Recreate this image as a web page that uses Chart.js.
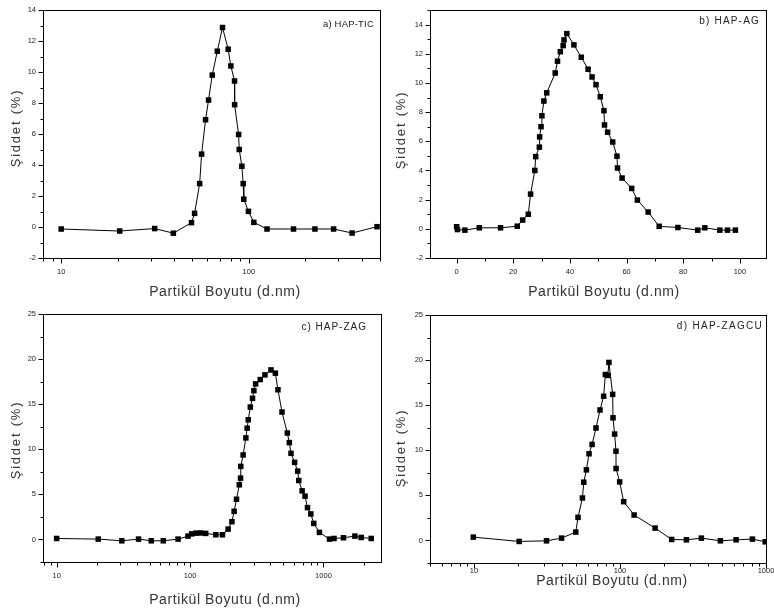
<!DOCTYPE html>
<html>
<head>
<meta charset="utf-8">
<script src="https://cdn.jsdelivr.net/npm/chart.js@4"></script>
<style>
  body { margin: 0; background: #fff; }
  #wrap { position: relative; width: 774px; height: 615px; }
  canvas { position: absolute; }
</style>
</head>
<body>
<div id="wrap">
  <canvas id="chartA" width="387" height="305" style="left:0;top:0"></canvas>
  <canvas id="chartB" width="387" height="305" style="left:387px;top:0"></canvas>
  <canvas id="chartC" width="387" height="310" style="left:0;top:305px"></canvas>
  <canvas id="chartD" width="387" height="310" style="left:387px;top:305px"></canvas>
</div>
<script>
// Particle size distributions (intensity %)

// a) HAP-TIC
const sizesA = [10, 20.5, 31.5, 39.6, 49.5, 51.4, 54.7, 56, 58.8, 61, 63.8, 67.9, 72.4, 77.6, 80.2, 83.9, 84,
    88.2, 88.9, 91.8, 93.3, 94, 99.5, 106.3, 125, 173, 225, 283, 355, 482];
const intensityA = [-0.13, -0.26, -0.1, -0.4, 0.28, 0.88, 2.8, 4.7, 6.92, 8.19, 9.8, 11.34, 12.87, 11.47, 10.39, 9.42, 7.89,
    5.97, 5.0, 3.92, 2.8, 1.79, 1.01, 0.3, -0.13, -0.13, -0.13, -0.13, -0.39, 0.02];

// b) HAP-AG
const sizesB = [0, 0.3, 2.9, 8.0, 15.5, 21.4, 23.3, 25.3, 26.1, 27.6, 27.9, 29.2, 29.3, 29.8, 30.1, 30.8, 31.8, 34.8,
    35.6, 36.6, 37.6, 37.9, 38.9, 41.4, 44.0, 46.4, 47.8, 49.2, 50.7, 52.0, 52.2, 53.3, 55.1, 56.6, 56.8, 58.4, 61.8,
    63.8, 67.6, 71.5, 78.1, 85.1, 87.6, 92.9, 95.6, 98.4];
const intensityB = [0.14, -0.05, -0.09, 0.07, 0.07, 0.18, 0.6, 1.0, 2.38, 4.0, 4.95, 5.6, 6.3, 7.0, 7.75, 8.76, 9.32, 10.68,
    11.49, 12.14, 12.56, 12.95, 13.38, 12.61, 11.76, 10.94, 10.41, 9.88, 9.05, 8.1, 7.12, 6.62, 5.95, 4.98, 4.17, 3.48, 2.77,
    1.97, 1.15, 0.17, 0.09, -0.09, 0.07, -0.09, -0.09, -0.09];

// c) HAP-ZAG
const sizesC = [10, 20.5, 30.8, 41.1, 51.2, 63, 81.3, 96.6, 103, 111, 120, 131, 156, 175, 193, 206, 214, 223, 234, 239,
    240, 250, 262, 268, 273, 283, 294, 301, 310, 336, 364, 404, 436, 456, 489, 536, 555, 571, 608, 641, 653, 692, 728,
    759, 804, 846, 933, 1109, 1201, 1413, 1720, 1919, 2281];
const intensityC = [0.11, 0.04, -0.15, 0.04, -0.15, -0.15, 0.04, 0.37, 0.62, 0.7, 0.72, 0.67, 0.52, 0.52, 1.15, 1.97, 3.12,
    4.46, 6.06, 6.8, 8.1, 9.37, 11.26, 12.34, 13.27, 14.68, 15.65, 16.5, 17.25, 17.73, 18.25, 18.8, 18.44, 16.6, 14.13,
    11.8, 10.74, 9.55, 8.55, 7.58, 6.54, 5.39, 4.8, 3.53, 2.83, 1.78, 0.78, 0.04, 0.11, 0.19, 0.37, 0.22, 0.11];

// d) HAP-ZAGCU
const sizesD = [9.9, 20.4, 31.4, 39.8, 49.8, 51.6, 55.3, 56.5, 58.9, 61.4, 64.4, 68.5, 73, 77.3, 79.4, 82.6, 84, 89.1,
    89.6, 91.9, 93.9, 94, 99.5, 106, 125, 174, 226, 285, 361, 487, 624, 807, 988];
const intensityD = [0.37, -0.11, -0.04, 0.26, 0.93, 2.56, 4.71, 6.46, 7.83, 9.61, 10.65, 12.47, 14.47, 15.99, 18.4, 18.3,
    19.74, 16.2, 13.6, 11.8, 9.9, 7.98, 6.49, 4.3, 2.82, 1.37, 0.11, 0.07, 0.26, -0.04, 0.07, 0.15, -0.15];

// Axis tick labels
const logTicksA = [10, 100];
const linTicksB = [0, 20, 40, 60, 80, 100];
const logTicksCD = [10, 100, 1000];
const yTicksAB = [-2, 0, 2, 4, 6, 8, 10, 12, 14];
const yTicksCD = [0, 5, 10, 15, 20, 25];

const xTitle = 'Partikül Boyutu (d.nm)';
const yTitle = 'Şiddet (%)';
const FONT = '"Liberation Sans", Arial, sans-serif';

// Major + minor tick values of a scale (Origin style)
function tickMarks(scale) {
    const out = [];
    const min = scale.min, max = scale.max;
    if (scale.type === 'logarithmic') {
        for (let n = Math.floor(Math.log10(min)); n <= Math.ceil(Math.log10(max)); n++) {
            for (let k = 1; k <= 9; k++) {
                const v = k * Math.pow(10, n);
                if (v >= min && v <= max) out.push([v, k === 1]);
            }
        }
    } else {
        const majors = scale.ticks.map(t => t.value);
        const half = (majors[1] - majors[0]) / 2;
        majors.forEach(v => out.push([v, true]));
        for (let v = majors[0] - half; v <= max + 1e-9; v += 2 * half) {
            if (v >= min - 1e-9) out.push([v, false]);
        }
    }
    return out;
}

// Draws the box, the tick marks, axis titles and the panel label
const framePlugin = {
    id: 'frame',
    beforeDatasetsDraw(chart) {
        const { ctx, chartArea: a, scales } = chart;
        ctx.save();
        ctx.strokeStyle = '#000';
        ctx.lineWidth = 1;
        ctx.strokeRect(Math.round(a.left) + 0.5, Math.round(a.top) + 0.5,
            Math.round(a.right - a.left), Math.round(a.bottom - a.top));

        ctx.beginPath();
        const bottom = Math.round(a.bottom) + 0.5;
        tickMarks(scales.x).forEach(([v, major]) => {
            const px = Math.round(scales.x.getPixelForValue(v)) + 0.5;
            ctx.moveTo(px, bottom);
            ctx.lineTo(px, bottom + (major ? 5 : 3));
        });
        const left = Math.round(a.left) + 0.5;
        tickMarks(scales.y).forEach(([v, major]) => {
            const py = Math.round(scales.y.getPixelForValue(v)) + 0.5;
            ctx.moveTo(left, py);
            ctx.lineTo(left - (major ? 5 : 3), py);
        });
        ctx.stroke();
        ctx.restore();
    },
    afterDraw(chart, args, opts) {
        const ctx = chart.ctx;
        ctx.save();
        ctx.fillStyle = '#333';
        ctx.textBaseline = 'middle';

        // x title
        ctx.font = '14px ' + FONT;
        ctx.letterSpacing = '0.6px';
        ctx.textAlign = 'center';
        ctx.fillText(xTitle, opts.xTitle[0], opts.xTitle[1]);

        // y title
        ctx.save();
        ctx.translate(opts.yTitle[0], opts.yTitle[1]);
        ctx.rotate(-Math.PI / 2);
        ctx.font = '13px ' + FONT;
        ctx.letterSpacing = '1.8px';
        ctx.fillText(yTitle, 0, 0);
        ctx.restore();

        // panel label
        ctx.fillStyle = '#222';
        ctx.font = opts.labelSize + 'px ' + FONT;
        ctx.letterSpacing = opts.labelSpacing + 'px';
        ctx.textAlign = 'right';
        ctx.fillText(opts.label, opts.labelPos[0], opts.labelPos[1]);
        ctx.restore();
    }
};

function makeChart(id, p) {
    const points = p.sizes.map((x, i) => ({ x: x, y: p.values[i] }));
    const tickFont = { family: FONT, size: 7.5 };
    return new Chart(document.getElementById(id), {
        type: 'scatter',
        data: {
            datasets: [{
                data: points,
                showLine: true,
                borderColor: '#000',
                borderWidth: 1,
                backgroundColor: '#000',
                pointStyle: 'rect',
                pointRadius: 3.9,
                pointBorderWidth: 0
            }]
        },
        plugins: [framePlugin],
        options: {
            responsive: false,
            animation: false,
            events: [],
            layout: { padding: { top: p.padTop, right: p.padRight, left: 0, bottom: 0 } },
            plugins: {
                legend: { display: false },
                tooltip: { enabled: false },
                frame: p.frame
            },
            scales: {
                x: {
                    type: p.xType,
                    min: p.xMin,
                    max: p.xMax,
                    grid: { display: false, drawTicks: false },
                    border: { display: false },
                    afterBuildTicks: s => { s.ticks = p.xTicks.map(v => ({ value: v })); },
                    afterFit: s => {
                        s.height = p.xAxisHeight;
                        s.paddingLeft = 0; s.paddingRight = 0;
                    },
                    ticks: {
                        padding: p.xLabelPad,
                        color: '#222',
                        font: tickFont,
                        maxRotation: 0,
                        autoSkip: false,
                        callback: v => String(v)
                    }
                },
                y: {
                    min: p.yMin,
                    max: p.yMax,
                    grid: { display: false, drawTicks: false },
                    border: { display: false },
                    afterBuildTicks: s => { s.ticks = p.yTicks.map(v => ({ value: v })); },
                    afterFit: s => {
                        s.width = 43;
                        s.paddingTop = 0; s.paddingBottom = 0;
                    },
                    ticks: {
                        padding: 7,
                        color: '#222',
                        font: tickFont,
                        autoSkip: false,
                        callback: v => String(v)
                    }
                }
            }
        }
    });
}

makeChart('chartA', {
    sizes: sizesA, values: intensityA,
    xType: 'logarithmic', xMin: 8, xMax: 500, xTicks: logTicksA,
    yMin: -2, yMax: 14, yTicks: yTicksAB,
    padTop: 10, padRight: 7, xAxisHeight: 47, xLabelPad: 9,
    frame: { xTitle: [225, 292], yTitle: [16, 128], label: 'a) HAP-TIC', labelPos: [374, 24], labelSize: 9.5, labelSpacing: 0.2 }
});

makeChart('chartB', {
    sizes: sizesB, values: intensityB,
    xType: 'linear', xMin: -9.4, xMax: 109.2, xTicks: linTicksB,
    yMin: -2, yMax: 15, yTicks: yTicksAB,
    padTop: 10, padRight: 8, xAxisHeight: 47, xLabelPad: 9,
    frame: { xTitle: [217, 292], yTitle: [14, 130], label: 'b) HAP-AG', labelPos: [373, 21], labelSize: 10, labelSpacing: 1.2 }
});

makeChart('chartC', {
    sizes: sizesC, values: intensityC,
    xType: 'logarithmic', xMin: 7.9, xMax: 2700, xTicks: logTicksCD,
    yMin: -2.5, yMax: 25, yTicks: yTicksCD,
    padTop: 9, padRight: 6, xAxisHeight: 53, xLabelPad: 9,
    frame: { xTitle: [225, 295], yTitle: [16, 135], label: 'c) HAP-ZAG', labelPos: [367, 22], labelSize: 10, labelSpacing: 1 }
});

makeChart('chartD', {
    sizes: sizesD, values: intensityD,
    xType: 'logarithmic', xMin: 5, xMax: 1000, xTicks: logTicksCD,
    yMin: -2.5, yMax: 25, yTicks: yTicksCD,
    padTop: 10, padRight: 8, xAxisHeight: 52, xLabelPad: 3,
    frame: { xTitle: [225, 276], yTitle: [14, 143], label: 'd) HAP-ZAGCU', labelPos: [376, 21], labelSize: 10, labelSpacing: 1.3 }
});
</script>
</body>
</html>
